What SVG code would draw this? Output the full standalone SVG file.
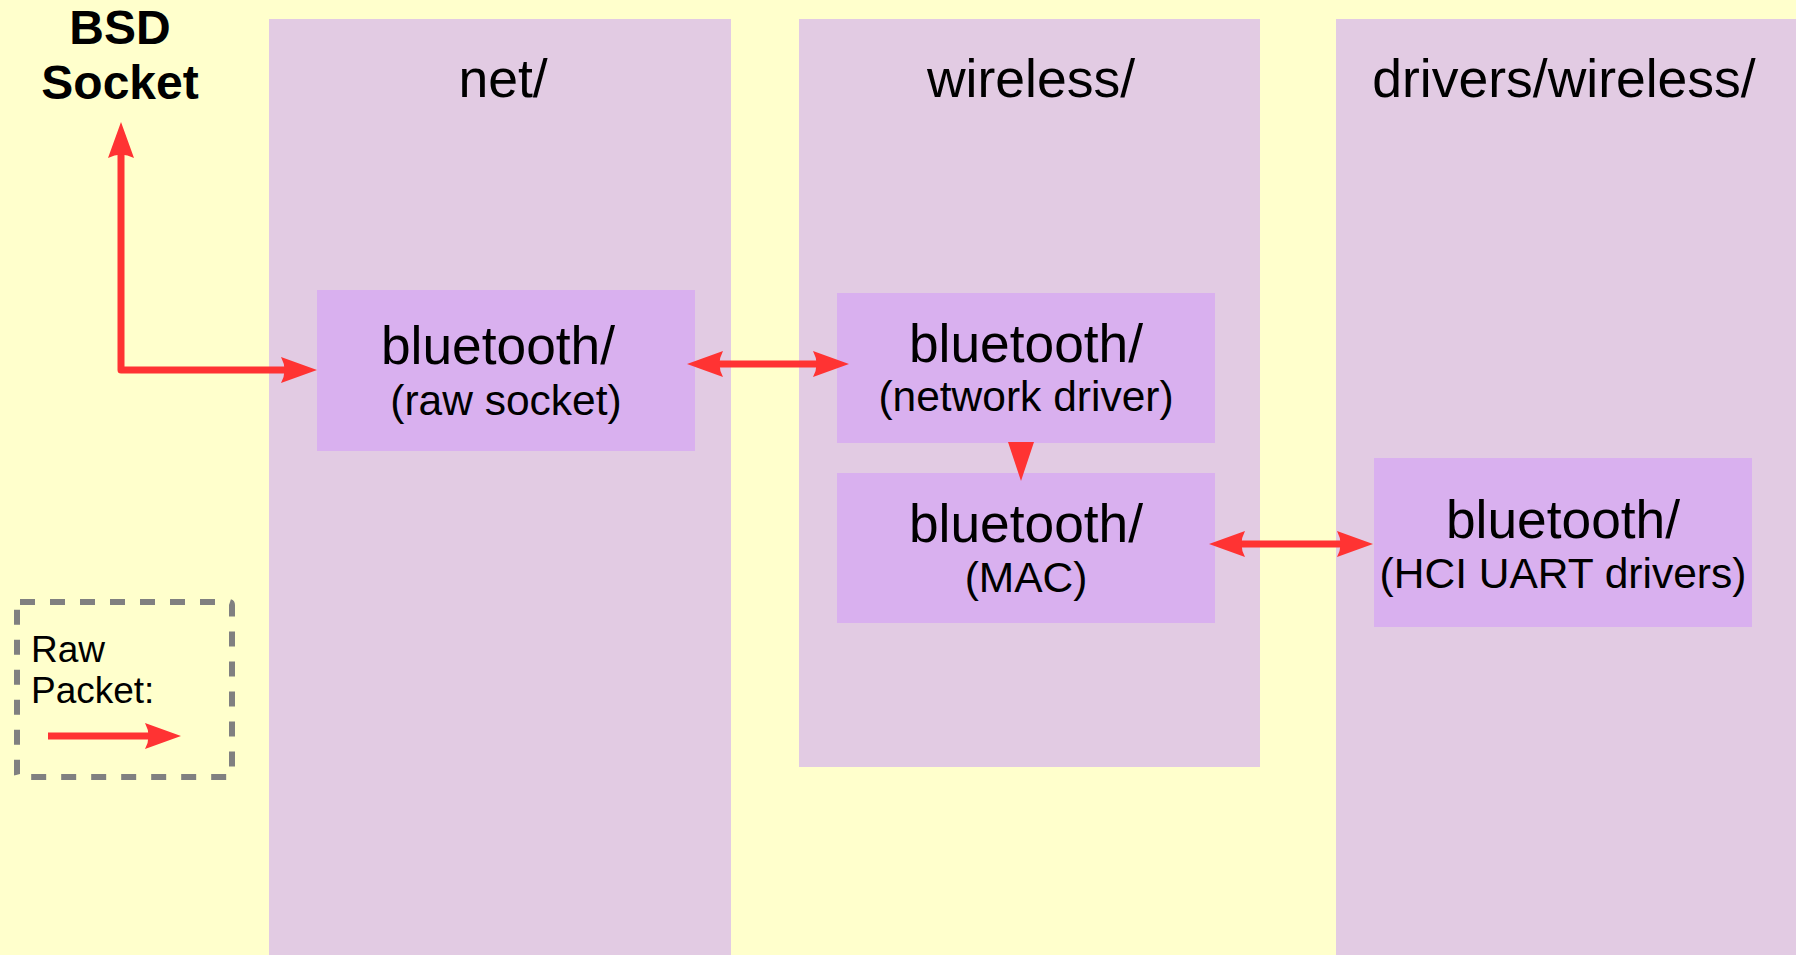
<svg xmlns="http://www.w3.org/2000/svg" width="1796" height="955" viewBox="0 0 1796 955">
  <style>
    .col { fill: #e2cbe3; }
    .box { fill: #d9b0ef; }
    .txt { font-family: "Liberation Sans", Arial, sans-serif; fill: #000; text-anchor: middle; }
    .hdr { font-size: 53.5px; }
    .main { font-size: 53.3px; }
    .sub { font-size: 42.5px; }
    .bold { font-size: 48px; font-weight: bold; }
    .leg { font-family: "Liberation Sans", Arial, sans-serif; font-size: 37px; fill: #000; }
    .wire { fill: none; stroke: #ff3333; stroke-width: 7; stroke-linejoin: round; }
  </style>
  <defs>
    <marker id="head" markerUnits="userSpaceOnUse" markerWidth="40" markerHeight="30"
            refX="4" refY="0" orient="auto-start-reverse" overflow="visible">
      <path d="M0,-13 L36,0 L0,13 Q7,0 0,-13 Z" fill="#ff3333"/>
    </marker>
  </defs>

  <rect width="1796" height="955" fill="#ffffcc"/>

  <!-- source tree columns -->
  <g id="col-net">
    <rect class="col" x="269" y="19" width="462" height="936"/>
    <text class="txt hdr" x="503" y="97">net/</text>
  </g>
  <g id="col-wireless">
    <rect class="col" x="799" y="19" width="461" height="748"/>
    <text class="txt hdr" x="1031" y="97">wireless/</text>
  </g>
  <g id="col-drivers">
    <rect class="col" x="1336" y="19" width="460" height="936"/>
    <text class="txt hdr" x="1564" y="97">drivers/wireless/</text>
  </g>

  <!-- BSD socket label -->
  <g id="bsd-socket">
    <text class="txt bold" x="120" y="44">BSD</text>
    <text class="txt bold" x="120" y="99">Socket</text>
  </g>

  <!-- bluetooth modules -->
  <g id="bt-raw-socket">
    <rect class="box" x="317" y="290" width="378" height="161"/>
    <text class="txt main" x="498" y="364">bluetooth/</text>
    <text class="txt sub" x="506" y="415">(raw socket)</text>
  </g>
  <g id="bt-network-driver">
    <rect class="box" x="837" y="293" width="378" height="150"/>
    <text class="txt main" x="1026" y="362">bluetooth/</text>
    <text class="txt sub" x="1026" y="411">(network driver)</text>
  </g>
  <g id="bt-mac">
    <rect class="box" x="837" y="473" width="378" height="150"/>
    <text class="txt main" x="1026" y="542">bluetooth/</text>
    <text class="txt sub" x="1026" y="592">(MAC)</text>
  </g>
  <g id="bt-hci-uart">
    <rect class="box" x="1374" y="458" width="378" height="169"/>
    <text class="txt main" x="1563" y="538">bluetooth/</text>
    <text class="txt sub" x="1563" y="588">(HCI UART drivers)</text>
  </g>

  <!-- raw packet flow -->
  <g id="connectors">
    <path class="wire" d="M121,154 L121,370 L285,370" marker-start="url(#head)" marker-end="url(#head)"/>
    <path class="wire" d="M719,364 L817,364" marker-start="url(#head)" marker-end="url(#head)"/>
    <polygon points="1008,442 1034,442 1021,481" fill="#ff3333"/>
    <path class="wire" d="M1241,544 L1341,544" marker-start="url(#head)" marker-end="url(#head)"/>
  </g>

  <!-- legend -->
  <g id="legend">
    <rect x="17" y="602" width="215" height="175" rx="3" fill="none" stroke="#808080" stroke-width="6" stroke-dasharray="15 15"/>
    <text class="leg" x="31" y="662">Raw</text>
    <text class="leg" x="31" y="703">Packet:</text>
    <path class="wire" d="M48,736 L149,736" marker-end="url(#head)"/>
  </g>
</svg>
